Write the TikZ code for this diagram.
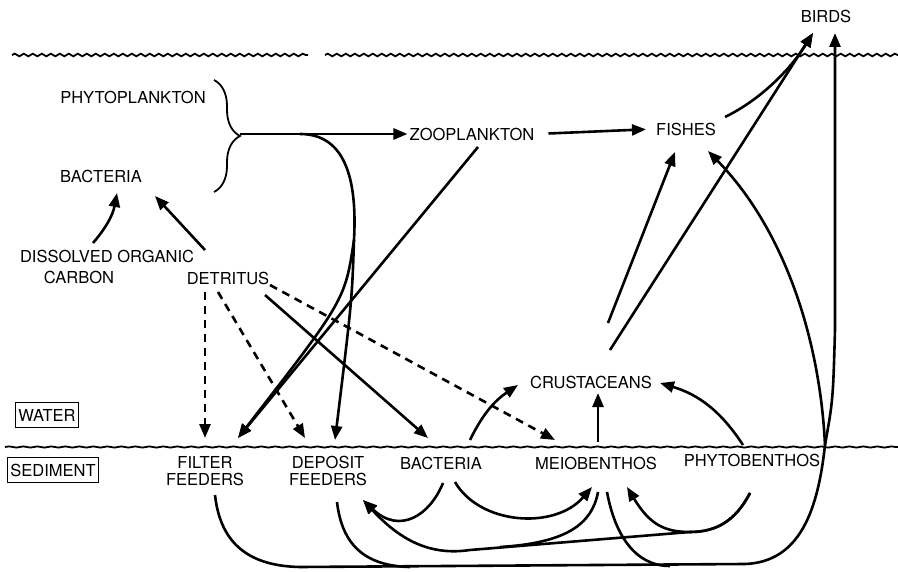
\documentclass[tikz,border=0pt]{standalone}
\usepackage{fontspec}
\setmainfont{TeX Gyre Heros}
\usetikzlibrary{arrows.meta,calc,decorations.pathmorphing,decorations.pathreplacing}
\newcommand\lbl{\fontsize{16.5}{17}\selectfont}

\begin{document}
\begin{tikzpicture}[x=1pt,y=-1pt,
    every node/.style={font=\lbl,inner sep=2pt},
    link/.style={line width=2.6pt},
    flow/.style={link,-{Triangle[length=14pt,width=11pt]}},
    dflow/.style={flow,dash pattern=on 8pt off 6pt},
    layer/.style={draw,line width=1.1pt,inner xsep=3pt,minimum height=25pt},
    wave/.style={line width=1.8pt,decorate,decoration={snake,amplitude=1.3pt,segment length=9pt}}]
  \useasboundingbox (0,0) rectangle (898,572);
  % surface and bottom
  \draw[wave] (12,55) -- (308,55);
  \draw[wave] (325,55) -- (898,55);
  \draw[line width=1.8pt,decorate,decoration={snake,amplitude=0.6pt,segment length=14pt}] (5,447) -- (898,447);
  % water column
  \node (birds)    at (826,16)  {BIRDS};
  \node (phyto)    at (133,97)  {PHYTOPLANKTON};
  \node (bactw)    at (101,176) {BACTERIA};
  \node (doc)      at (107,256) {DISSOLVED ORGANIC};
  \node (carbon)   at (79,277)  {CARBON};
  \node (detritus) at (228,278) {DETRITUS};
  \node (zoo)      at (472,134) {ZOOPLANKTON};
  \node (fishes)   at (686,129) {FISHES};
  \node (crust)    at (591,382) {CRUSTACEANS};
  \node[layer] (water) at (47,415) {WATER};
  % sediment
  \node[layer] (sediment) at (53,470) {SEDIMENT};
  \node[align=center] (filter)  at (205,471) {FILTER\\FEEDERS};
  \node[align=center] (deposit) at (328,471) {DEPOSIT\\FEEDERS};
  \node (bacts)  at (441,463) {BACTERIA};
  \node (meio)   at (596,463) {MEIOBENTHOS};
  \node (phytob) at (752,460) {PHYTOBENTHOS};
  % brace round the plankton
  \draw[decorate,decoration={brace,amplitude=26pt},line width=1.8pt] (214,80) -- (214,192);
  \coordinate (brc) at (240,134);
  \coordinate (brk) at (300,134);
  \coordinate (split) at (354,240);
  \coordinate (jn) at (825,445);
  \begin{scope}[flow]
    \draw (brc) -- (zoo.west);
    \draw[shorten <=12pt,shorten >=8pt] (zoo.east) -- (fishes.west);
    \draw[link,-] (brk) .. controls (348,134) and (357,185) .. (split);
    \draw (split) .. controls (352,300) .. ($(deposit)+(7,-31)$);
    \draw (split) .. controls (345,300) .. ($(filter)+(33,-33)$);
    \draw ($(zoo)+(6,13)$) -- ($(filter)+(33,-33)$);
    % detritus and dissolved carbon
    \draw ($(detritus)+(-23,-28)$) -- ($(bactw)+(54,20)$);
    \draw ($(doc)+(-14,-13)$) to[bend right=15] ($(bactw)+(16,17)$);
    \draw[dflow] ($(detritus)+(-23,14)$) -- ($(filter)+(0,-33)$);
    \draw[dflow] ($(detritus)+(-10,14)$) -- ($(deposit)+(-23,-33)$);
    \draw ($(detritus)+(37,17)$) -- ($(bacts)+(-13,-25)$);
    \draw[dflow] ($(detritus)+(42,7)$) -- ($(meio)+(-41,-23)$);
    % crustaceans, fishes, birds
    \draw ($(bacts)+(29,-23)$) to[bend left=15] ($(crust)+(-73,3)$);
    \draw ($(meio)+(2,-21)$) -- ($(crust)+(7,11)$);
    \draw ($(phytob)+(-9,-15)$) to[bend right=20] ($(crust)+(69,1)$);
    \draw ($(crust)+(17,-59)$) -- ($(fishes)+(-11,23)$);
    \draw ($(crust)+(19,-32)$) -- ($(birds)+(-13,17)$);
    \draw ($(fishes)+(39,-12)$) .. controls (760,100) and (790,70) .. ($(birds)+(-13,17)$);
    % benthos up to fishes and birds
    \draw[link,-] ($(filter)+(10,24)$) .. controls (220,540) and (245,566) .. (300,567)
      -- (745,564) .. controls (800,562) and (818,510) .. (jn);
    \draw[link,-] ($(deposit)+(9,31)$) .. controls (342,545) and (365,566) .. (410,567);
    \draw[link,-] ($(meio)+(11,29)$) .. controls (615,535) and (635,566) .. (670,566);
    \draw (jn) .. controls (833,400) .. (835,330) -- ($(birds)+(9,17)$);
    \draw (jn) .. controls (820,340) and (785,230) .. ($(fishes)+(22,22)$);
    % loops in the sediment
    \draw ($(phytob)+(-2,33)$) .. controls (735,522) and (715,532) .. (690,532)
      -- (470,550) .. controls (430,556) and (400,540) .. ($(deposit)+(35,29)$);
    \draw ($(phytob)+(-2,33)$) .. controls (735,522) and (715,532) .. (690,532)
      .. controls (665,532) and (650,525) .. ($(meio)+(31,24)$);
    \draw ($(bacts)+(14,19)$) .. controls (480,525) and (555,530) .. ($(meio)+(-4,24)$);
    \draw ($(bacts)+(2,20)$) .. controls (430,515) and (400,535) .. ($(deposit)+(35,29)$);
    \draw[link,-] ($(meio)+(2,29)$) .. controls (592,525) and (565,543) .. (500,547);
  \end{scope}
\end{tikzpicture}
\end{document}
